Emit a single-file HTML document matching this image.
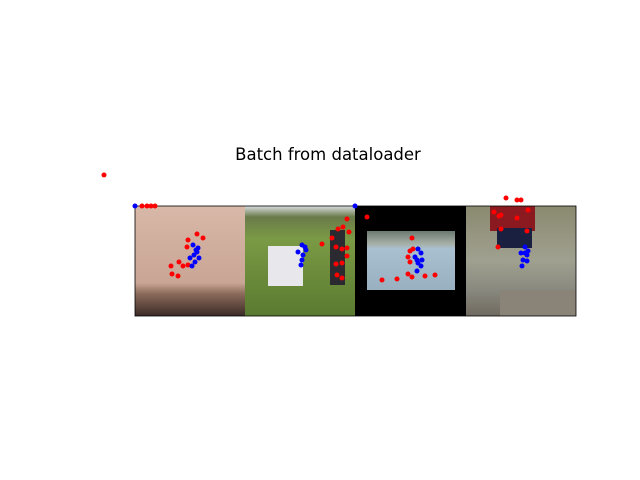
<!DOCTYPE html>
<html><head><meta charset="utf-8"><style>
body{margin:0;background:#fff;width:640px;height:480px;overflow:hidden}
svg{display:block}
text{font-family:"DejaVu Sans","Liberation Sans",sans-serif}
</style></head><body>
<svg id="fig" width="640" height="480">
<defs>
<linearGradient id="g1" x1="0" y1="0" x2="0" y2="1"><stop offset="0" stop-color="#d8b8a8"/><stop offset="0.7" stop-color="#c9a595"/><stop offset="0.8" stop-color="#8a6a5a"/><stop offset="1" stop-color="#3a2a25"/></linearGradient>
<linearGradient id="g2" x1="0" y1="0" x2="0" y2="1"><stop offset="0" stop-color="#d8dde0"/><stop offset="0.1" stop-color="#6a7a4a"/><stop offset="0.3" stop-color="#7a9a45"/><stop offset="1" stop-color="#5a7a30"/></linearGradient>
<linearGradient id="g3" x1="0" y1="0" x2="0" y2="1"><stop offset="0" stop-color="#6a7a70"/><stop offset="0.22" stop-color="#a8b0a8"/><stop offset="0.3" stop-color="#a8c0d0"/><stop offset="1" stop-color="#98b0c0"/></linearGradient>
<linearGradient id="g4" x1="0" y1="0" x2="0" y2="1"><stop offset="0" stop-color="#8a8a70"/><stop offset="0.5" stop-color="#a0a090"/><stop offset="0.75" stop-color="#8a8a80"/><stop offset="1" stop-color="#706a60"/></linearGradient>
</defs>
<text x="328" y="160" text-anchor="middle" font-size="16.5">Batch from dataloader</text>
<g id="imgs">
<rect x="135" y="206" width="110" height="110" fill="url(#g1)"/>
<rect x="245" y="206" width="110" height="110" fill="url(#g2)"/>
<rect x="355" y="206" width="111" height="110" fill="#000"/>
<rect x="367" y="231" width="88" height="59" fill="url(#g3)"/>
<rect x="466" y="206" width="110" height="110" fill="url(#g4)"/>
<rect x="490" y="206" width="45" height="25" fill="#8a1a20"/>
<rect x="497" y="228" width="35" height="20" fill="#1a2040"/>
<rect x="500" y="290" width="76" height="26" fill="#8a8478"/>
<rect x="268" y="246" width="35" height="40" fill="#e8e8ec"/>
<rect x="330" y="230" width="15" height="55" fill="#2a2a30"/>
<rect x="135" y="206" width="441" height="110" fill="none" stroke="#000" stroke-width="0.8"/>
</g>
<g id="pts"></g>
</svg>
<script>
// data coords: x 0..441, y 0..110 (image grid units)
const redX=[-31,7,12,16,20,62,68,53,52,44,36,37,43,48,53,187,197,203,208,212,214,201,207,212,212,201,207,202,207,232,277,278,275,273,275,273,277,290,300,262,247,371,382,386,359,364,366,382,393,392,366,363];
const redY=[-31,0,0,0,0,28,32,34,41,56,60,68,70,60,59,38,32,23,21,13,26,41,43,42,50,58,57,69,72,11,32,43,45,51,56,68,71,70,69,73,74,-8,-6,-6,6,10,9,12,4,25,23,41];
const blueX=[0,220,58,63,62,59,64,60,57,61,55,167,170,163,168,167,166,171,283,286,280,287,283,286,282,282,390,393,386,392,388,392,387,390];
const blueY=[0,0,39,42,46,49,52,56,60,44,52,39,41,46,49,54,59,44,43,47,51,54,57,60,65,54,41,45,47,49,54,55,60,47];
const X0=135,Y0=206,SX=1,SY=1;
const xs=v=>X0+v*SX, ys=v=>Y0+v*SY;
const g=document.getElementById('pts');
function dot(x,y,c,name){
  const e=document.createElementNS('http://www.w3.org/2000/svg','circle');
  e.setAttribute('cx',xs(x));e.setAttribute('cy',ys(y));e.setAttribute('r',2.5);e.setAttribute('fill',c);
  
  
  g.appendChild(e);
}
redX.forEach((x,i)=>dot(x,redY[i],'#ff0000','keypoint-red'));
blueX.forEach((x,i)=>dot(x,blueY[i],'#0000ff','keypoint-blue'));
</script>
</body></html>
